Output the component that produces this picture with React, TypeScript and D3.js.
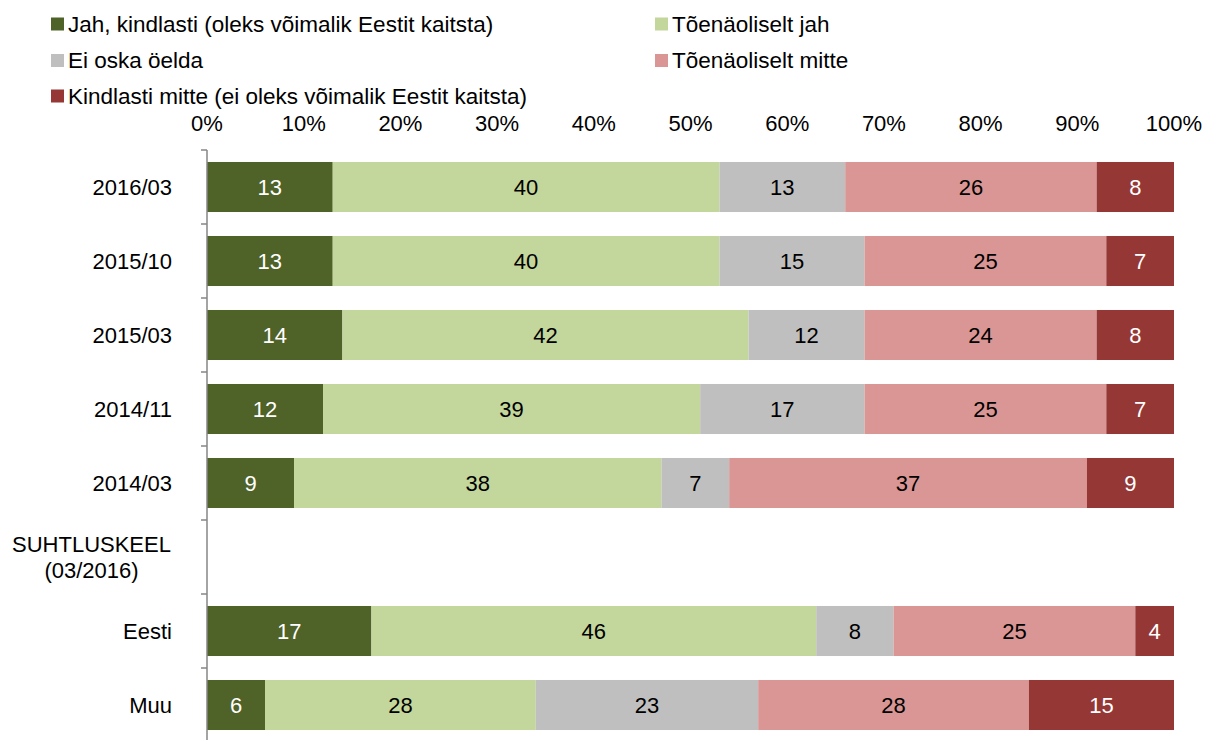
import React from "react";
import * as d3 from "d3";

const categories = ["2016/03", "2015/10", "2015/03", "2014/11", "2014/03", "SUHTLUSKEEL|(03/2016)", "Eesti", "Muu"];
const seriesNames = [
  "Jah, kindlasti (oleks võimalik Eestit kaitsta)",
  "Tõenäoliselt jah",
  "Ei oska öelda",
  "Tõenäoliselt mitte",
  "Kindlasti mitte (ei oleks võimalik Eestit kaitsta)",
];
const jahKindlasti = [13, 13, 14, 12, 9, 0, 17, 6];
const toenaoliseltJah = [40, 40, 42, 39, 38, 0, 46, 28];
const eiOska = [13, 15, 12, 17, 7, 0, 8, 23];
const toenaoliseltMitte = [26, 25, 24, 25, 37, 0, 25, 28];
const kindlastiMitte = [8, 7, 8, 7, 9, 0, 4, 15];
const xTicks = [0, 10, 20, 30, 40, 50, 60, 70, 80, 90, 100];

const colors = ["#4F6228", "#C3D69B", "#BFBFBF", "#D99694", "#953735"];
const labelColors = ["#FFFFFF", "#000000", "#000000", "#000000", "#FFFFFF"];
const FONT = "'Liberation Sans', Arial, sans-serif";
const FS = 22;
const LFS = 22.5;

export default function App() {
  const W = 1205, H = 740;
  const series = [jahKindlasti, toenaoliseltJah, eiOska, toenaoliseltMitte, kindlastiMitte];
  const x = d3.scaleLinear().domain([0, 100]).range([207, 1174]);
  const y = d3.scaleBand<string>().domain(categories).range([150, 742]).paddingInner(0.324).paddingOuter(0.162);
  const step = y.step();

  const rows = categories.map((c, i) => {
    const vals = series.map((s) => s[i]);
    const total = d3.sum(vals);
    let acc = 0;
    const segs = vals.map((v, k) => {
      const p0 = total ? (acc / total) * 100 : 0;
      acc += v;
      const p1 = total ? (acc / total) * 100 : 0;
      return { v, p0, p1, k };
    });
    return { c, segs };
  });

  const legendItems = [
    { k: 0, x: 51, yc: 24 },
    { k: 1, x: 655, yc: 24 },
    { k: 2, x: 51, yc: 60.5 },
    { k: 3, x: 655, yc: 60.5 },
    { k: 4, x: 51, yc: 96 },
  ];

  const boundaries = d3.range(categories.length + 1).map((i) => 150 + i * step);

  return (
    <svg width={W} height={H} style={{ position: "absolute", left: 0, top: 0, background: "#fff" }} fontFamily={FONT}>
      {legendItems.map((l) => (
        <g key={l.k}>
          <rect x={l.x} y={l.yc - 6.5} width={13} height={13} fill={colors[l.k]} />
          <text x={l.x + 17} y={l.yc + 7.5} fontSize={LFS} fill="#000">{seriesNames[l.k]}</text>
        </g>
      ))}
      {xTicks.map((t) => (
        <text key={t} x={x(t)} y={131} fontSize={FS} textAnchor="middle" fill="#000">{t}%</text>
      ))}
      {rows.map((r) => (
        <g key={r.c}>
          {r.segs.filter((s) => s.v > 0).map((s) => (
            <g key={s.k}>
              <rect x={x(s.p0)} y={y(r.c)!} width={x(s.p1) - x(s.p0)} height={y.bandwidth()} fill={colors[s.k]} />
              <text x={(x(s.p0) + x(s.p1)) / 2} y={y(r.c)! + y.bandwidth() / 2} dy="0.36em" fontSize={FS} textAnchor="middle" fill={labelColors[s.k]}>{s.v}</text>
            </g>
          ))}
        </g>
      ))}
      {categories.map((c) => {
        const lines = c.split("|");
        const cy = y(c)! + y.bandwidth() / 2;
        if (lines.length === 1) {
          return <text key={c} x={172} y={cy} dy="0.36em" fontSize={FS} textAnchor="end" fill="#000">{c}</text>;
        }
        return (
          <text key={c} fontSize={FS} textAnchor="middle" fill="#000">
            {lines.map((ln, i) => (
              <tspan key={i} x={91.5} y={cy + (i - (lines.length - 1) / 2) * 26} dy="0.36em">{ln}</tspan>
            ))}
          </text>
        );
      })}
      <line x1={207} x2={207} y1={150} y2={742} stroke="#868686" strokeWidth={1.5} />
      {boundaries.map((b, i) => (
        <line key={i} x1={201} x2={207} y1={b} y2={b} stroke="#868686" strokeWidth={1.5} />
      ))}
    </svg>
  );
}
